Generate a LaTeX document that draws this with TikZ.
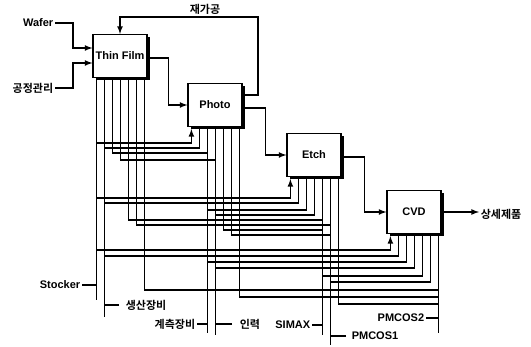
\documentclass[tikz,border=0pt]{standalone}
\usepackage{fontspec}
\setmainfont{Liberation Sans}
\newfontfamily\kor{Noto Sans CJK KR}[BoldFont={Noto Sans CJK KR Bold}]
\usetikzlibrary{shadows}

\begin{document}
\begin{tikzpicture}[x=1pt, y=-1pt, >=latex, line width=1.6pt,
  font=\fontsize{11}{13}\selectfont\bfseries,
  proc/.style={draw, fill=white, line width=1.2pt, minimum width=54pt,
    minimum height=43pt, inner sep=0pt,
    drop shadow={shadow xshift=3pt, shadow yshift=-3pt, fill=black, opacity=1}},
  lbl/.style={inner sep=1pt},
  klbl/.style={inner sep=1pt, font=\kor\fontsize{11}{13}\selectfont\bfseries}]
\useasboundingbox (0,0) rectangle (531,347);
% process chain
\node[proc] (tf) at (120,56) {Thin Film};
\node[proc] (ph) at (215,105) {Photo};
\node[proc] (et) at (314,155) {Etch};
\node[proc] (cv) at (414,212) {CVD};
% inputs, output, rework loop
\node[lbl, anchor=east] (wafer) at (55,23) {Wafer};
\node[klbl, anchor=east] (ctrl) at (55,88) {공정관리};
\node[klbl] (rework) at (205,9) {재가공};
\node[klbl, anchor=west] (out) at (479,214) {상세제품};
\draw[->] (wafer.east) -- ++(18,0) |- ([yshift=8pt]tf.west);
\draw[->] (ctrl.east) -- ++(18,0) |- ([yshift=-7pt]tf.west);
\draw[->] ([yshift=-2pt]tf.east) -- ++(21,0) |- (ph.west);
\draw[->] ([yshift=-3pt]ph.east) -- ++(23,0) |- (et.west);
\draw[->] ([yshift=-2pt]et.east) -- ++(23,0) |- (cv.west);
\draw[->] (cv.east) -- (out.west |- cv.east);
\coordinate (loop) at (258,17);
\draw[->] ([yshift=10pt]ph.east) -| (loop) -| (tf.north);
% seven pins under each box
\foreach \b in {tf,ph,et,cv}
  \foreach \i in {1,...,7}
    \path (\b.south west) ++({4+8*(\i-1)},2) coordinate (\b\i);
% system buses
\foreach \p/\e in {tf1/300, tf2/317, ph3/333, ph4/335, et5/335, et6/345, cv7/333}
  \draw (\p) -- (\p |- 0,\e);
% box -> bus further right
\foreach \a/\b/\r in {tf3/ph3/153, tf4/ph4/160, tf5/et5/220, tf6/et6/225,
    ph5/et5/230, ph6/et6/235, tf7/cv7/290, ph7/cv7/297, et7/cv7/304}
  \draw (\a) |- (\b |- 0,\r);
% bus -> box further right
\foreach \a/\b/\r in {tf1/ph1/143, tf1/et1/198, tf1/cv1/250}
  \draw[->] (\a |- 0,\r) -| (\b);
\foreach \a/\b/\r in {tf2/ph2/148, tf2/et2/203, ph3/et3/210, ph4/et4/215,
    tf2/cv2/256, ph3/cv3/262, ph4/cv4/268, et5/cv5/276, et6/cv6/282}
  \draw (\a |- 0,\r) -| (\b);
% bus names
\node[lbl, anchor=east] (stk) at (82,285) {Stocker};
\draw (stk) -- (stk -| tf1);
\node[klbl, anchor=west] (prd) at (124,305) {생산장비};
\draw ([xshift=-5pt]prd.west) -- (prd -| tf2);
\node[klbl, anchor=east] (msr) at (197,324) {계측장비};
\draw (msr) -- (msr -| ph3);
\node[klbl, anchor=west] (man) at (238,324) {인력};
\draw ([xshift=-6pt]man.west) -- (man -| ph4);
\node[lbl, anchor=east] (smx) at (312,325) {SIMAX};
\draw (smx) -- (smx -| et5);
\node[lbl, anchor=west] (pc1) at (350,336) {PMCOS1};
\draw ([xshift=-4pt]pc1.west) -- (pc1 -| et6);
\node[lbl, anchor=east] (pc2) at (426,318) {PMCOS2};
\draw (pc2) -- (pc2 -| cv7);
\end{tikzpicture}
\end{document}
